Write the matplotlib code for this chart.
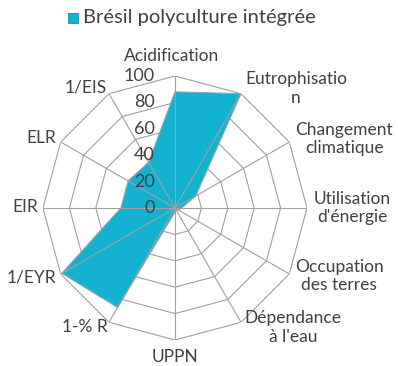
import numpy as np
import matplotlib.pyplot as plt
from matplotlib.patches import Rectangle

plt.rcParams['font.family'] = ['Lato', 'DejaVu Sans']

categories = ["Acidification", "Eutrophisatio\nn", "Changement\nclimatique",
              "Utilisation\nd'énergie", "Occupation\ndes terres", "Dépendance\nà l'eau",
              "UPPN", "1-% R", "1/EYR", "EIR", "ELR", "1/EIS"]
values = [88, 100, 18, 5, 3, 2, 3, 87, 99, 41, 41, 40]
ticks = [0, 20, 40, 60, 80, 100]
series_name = "Brésil polyculture intégrée"

# label offsets from each outer vertex, in pixels
label_offsets = [(-3, 20), (55, 5), (55, 3), (45, 0), (50, -2), (52, -5),
                 (0, -17), (-24, -5), (-29, -3), (-18, 1), (-19, 4), (-23, 6)]

TXT = '#404040'
GRID = '#A0A0A0'
FILL = '#14B2D1'

fig = plt.figure(figsize=(3.98, 3.66), dpi=100, facecolor='white')
ax = fig.add_axes([43 / 398, 26 / 366, 264 / 398, 264 / 366], projection='polar')
ax.set_theta_zero_location('N')
ax.set_theta_direction(-1)
ax.set_ylim(0, 100)
ax.grid(False)
ax.spines['polar'].set_visible(False)
ax.set_xticks([])
ax.set_yticks([])
ax.patch.set_alpha(0)

n = len(categories)
theta = np.arange(n) * 2 * np.pi / n
theta_c = np.append(theta, theta[0])

# polygon rings
for t in ticks[1:]:
    ax.plot(theta_c, [t] * (n + 1), color=GRID, lw=0.8, zorder=1)

# data area
vals_c = np.append(values, values[0])
ax.fill(theta_c, vals_c, facecolor=FILL, edgecolor='#8AA7AF', lw=0.8, zorder=2)

# spokes over the fill
for th in theta:
    ax.plot([th, th], [0, 100], color=GRID, lw=0.8, zorder=3)

# radial tick labels
for t in ticks:
    ax.annotate(str(t), xy=(0, t), xytext=(-20, 0), textcoords='offset pixels',
                ha='right', va='center', fontsize=13, color=TXT, zorder=4)

# category labels
for th, lab, off in zip(theta, categories, label_offsets):
    ax.annotate(lab, xy=(th, 100), xytext=off, textcoords='offset pixels',
                ha='center', va='center', fontsize=12.5, color=TXT,
                linespacing=1.2, annotation_clip=False)

# legend
fig.patches.append(Rectangle((68 / 398, 1 - 23 / 366), 10 / 398, 10 / 366,
                             transform=fig.transFigure, facecolor=FILL,
                             edgecolor='#0E8FA8', lw=0.6))
fig.text(83 / 398, 1 - 18 / 366, series_name, ha='left', va='center',
         fontsize=14.5, color=TXT)

fig.savefig('out.png', dpi=100)
